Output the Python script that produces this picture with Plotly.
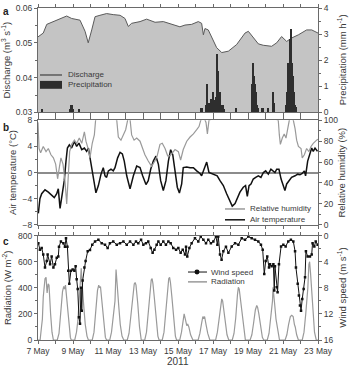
import numpy as np
import pandas as pd
import plotly.graph_objects as go

BASE = pd.Timestamp("2011-05-07")

# ---------------- Panel a: discharge & precipitation ----------------
q_day = [0.0, 0.3, 0.5, 0.88, 1.35, 1.64, 1.92, 2.40, 2.69, 2.87, 3.07, 3.26, 3.54, 3.92,
         4.30, 4.69, 4.97, 5.16, 5.35, 5.83, 6.21, 6.69, 7.16, 7.83, 8.11, 8.40, 8.78,
         9.16, 9.35, 9.45, 9.54, 9.73, 10.02, 10.21, 10.50, 10.88, 11.35, 11.83, 12.02,
         12.30, 12.59, 12.87, 13.35, 13.64, 13.92, 14.21, 14.50, 14.88, 15.35, 15.64, 16.0]
q_val = [0.0517, 0.0528, 0.0553, 0.0561, 0.0572, 0.0577, 0.0570, 0.0565, 0.0533, 0.0500,
         0.0537, 0.0575, 0.0579, 0.0584, 0.0581, 0.0579, 0.0570, 0.0547, 0.0556, 0.0561,
         0.0568, 0.0559, 0.0561, 0.0551, 0.0546, 0.0551, 0.0553, 0.0561, 0.0556, 0.0523,
         0.0541, 0.0537, 0.0504, 0.0486, 0.0472, 0.0476, 0.0495, 0.0528, 0.0533, 0.0514,
         0.0497, 0.0493, 0.0490, 0.0500, 0.0518, 0.0504, 0.0514, 0.0523, 0.0537, 0.0537,
         0.0528]

p_day = [0.25, 1.82, 1.88, 1.95, 2.02, 2.34,
         9.30, 9.36, 9.62, 9.68, 9.74, 9.80, 9.86, 9.92, 9.98, 10.04, 10.10, 10.16, 10.22,
         10.28, 10.34, 10.40, 10.46, 10.52, 10.58, 10.64, 11.33,
         12.22, 12.28, 12.34, 12.40, 12.46, 12.52, 12.58, 12.80, 12.86, 13.16, 13.46, 13.52,
         14.20, 14.26, 14.32, 14.38, 14.44, 14.50, 14.56, 14.62, 14.68, 14.74]
p_val = [0.13, 0.15, 0.28, 0.30, 0.15, 0.13,
         0.16, 0.16, 0.30, 1.10, 0.35, 0.30, 0.35, 0.50, 0.80, 0.47, 0.30, 0.60, 2.25,
         1.60, 0.80, 0.80, 0.30, 0.30, 0.30, 0.15, 0.16,
         1.10, 1.90, 1.40, 1.10, 0.80, 0.30, 0.16, 0.16, 0.16, 0.16, 0.80, 0.35,
         0.30, 0.80, 1.90, 2.80, 3.20, 1.90, 1.40, 0.80, 0.30, 0.20]

# ---------------- Panel b: air temperature & relative humidity ----------------
t_day = [0.02, 0.11, 0.21, 0.40, 0.59, 0.78, 0.93, 1.07, 1.16, 1.26, 1.35, 1.50, 1.60, 1.68,
         1.79, 1.92, 2.08, 2.21, 2.34, 2.50, 2.65, 2.78, 2.88, 2.97, 3.10, 3.22, 3.31, 3.45,
         3.60, 3.73, 3.83, 3.92, 4.02, 4.17, 4.30, 4.40, 4.55, 4.69, 4.82, 4.93, 5.07, 5.26,
         5.45, 5.64, 5.83, 5.98, 6.17, 6.30, 6.44, 6.59, 6.74, 6.88, 7.01, 7.16, 7.31, 7.45,
         7.58, 7.70, 7.83, 7.96, 8.08, 8.21, 8.30, 8.50, 8.69, 8.88, 9.07, 9.26, 9.35, 9.49,
         9.64, 9.77, 9.92, 10.11, 10.24, 10.40, 10.59, 10.78, 10.97, 11.10, 11.26, 11.41,
         11.54, 11.73, 11.86, 11.96, 12.06, 12.17, 12.30, 12.44, 12.59, 12.74, 12.88, 13.01,
         13.16, 13.31, 13.45, 13.54, 13.64, 13.77, 13.89, 14.02, 14.11, 14.21, 14.34, 14.49,
         14.69, 14.84, 14.97, 15.10, 15.22, 15.29, 15.41, 15.54, 15.64, 15.73, 15.83, 15.97]
t_val = [-6.25, -4.0, -3.25, -2.65, -3.0, -3.5, -3.85, -3.25, -2.5, -5.5, -3.75, -1.25, 1.75,
         3.75, 4.25, 3.75, 4.75, 4.0, 4.5, 3.5, 3.75, 3.25, 3.75, 2.25, -0.25, -2.0, -3.1,
         -2.0, -0.25, 0.75, -0.5, -0.75, 0.25, 0.5, 0.25, 0.75, 2.25, 3.1, 2.85, 1.75, -0.5,
         -2.5, -0.5, 1.0, 0.75, -0.5, -1.85, -1.25, 0.5, 1.75, 2.5, 1.25, -1.25, -2.75,
         -1.25, 1.75, 3.5, 2.75, 0.0, -2.25, -3.15, -1.75, 0.75, 0.85, 0.75, 0.75, 0.25,
         -0.15, -0.5, 0.5, 1.6, 0.0, -0.15, -0.25, -0.5, -1.25, -2.0, -3.25, -4.5, -5.15,
         -4.75, -3.75, -3.0, -2.25, -2.0, -3.65, -2.0, -1.75, -1.0, -0.75, -0.5, -0.75, 0.0,
         0.25, -0.25, 0.5, 0.25, 0.0, 0.5, 0.5, -1.0, -2.25, -2.75, -1.75, -1.25, -0.75,
         -0.5, -0.25, -0.35, -0.15, 0.25, -0.5, 1.75, 2.75, 3.75, 3.25, 3.75, 3.25]

rh_day = [0.0, 0.06, 0.15, 0.30, 0.46, 0.59, 0.74, 0.88, 1.01, 1.12, 1.22, 1.31, 1.43, 1.54,
          1.64, 1.73, 1.81, 1.92, 2.08, 2.21, 2.36, 2.50, 2.65, 2.74, 2.88, 2.97, 3.10, 3.22,
          3.29, 3.60, 4.00, 4.50, 4.59, 4.74, 4.88, 5.01, 5.12, 5.23, 5.35, 5.49, 5.64, 5.83,
          5.98, 6.11, 6.30, 6.49, 6.68, 6.81, 6.97, 7.10, 7.26, 7.41, 7.54, 7.70, 7.83, 8.02,
          8.15, 8.30, 8.50, 8.69, 8.88, 9.07, 9.20, 9.30, 9.45, 9.60, 9.68, 9.77, 11.0, 12.5,
          13.73, 13.79, 13.85, 13.96, 14.07, 14.17, 14.27, 14.36, 14.48, 14.59, 14.69, 14.78,
          14.88, 15.03, 15.10, 15.22, 15.35, 15.48, 15.60, 15.73, 15.92, 16.0]
rh_val = [98, 73, 69, 75, 70, 73, 67, 64, 58, 44, 55, 64, 58, 42, 20, 52, 70, 77, 81, 78,
          83, 78, 89, 80, 72, 64, 78, 86, 100, 110, 110, 100, 84, 81, 86, 91, 100, 106, 86,
          81, 83, 80, 73, 67, 61, 56, 61, 66, 77, 78, 73, 66, 66, 70, 72, 70, 62, 72, 80,
          84, 87, 91, 94, 100, 104, 98, 87, 100, 110, 110, 100, 86, 77, 83, 87, 83, 92, 100,
          104, 100, 92, 81, 75, 73, 64, 67, 73, 70, 75, 78, 81, 82]

# ---------------- Panel c: radiation & wind speed ----------------
rad_day = [0.00, 0.12, 0.20, 0.25, 0.30, 0.40, 0.46, 0.52, 0.58, 0.63, 0.72, 0.80, 0.88,
           1.10, 1.20, 1.30, 1.40, 1.47, 1.52, 1.57, 1.65, 1.75, 1.85, 1.90,
           2.10, 2.20, 2.28, 2.35, 2.42, 2.47, 2.52, 2.58, 2.62, 2.70, 2.80, 2.88,
           3.10, 3.20, 3.30, 3.40, 3.47, 3.52, 3.57, 3.65, 3.75, 3.85, 3.92,
           4.10, 4.20, 4.30, 4.37, 4.40, 4.46, 4.52, 4.57, 4.62, 4.70, 4.80, 4.90,
           5.10, 5.20, 5.30, 5.40, 5.50, 5.55, 5.60, 5.70, 5.80, 5.90,
           6.10, 6.20, 6.30, 6.40, 6.47, 6.52, 6.57, 6.65, 6.75, 6.85, 6.92,
           7.10, 7.20, 7.30, 7.40, 7.47, 7.52, 7.57, 7.65, 7.75, 7.85, 7.92,
           8.10, 8.20, 8.28, 8.35, 8.42, 8.50, 8.56, 8.62, 8.72, 8.85,
           9.15, 9.25, 9.35, 9.42, 9.47, 9.52, 9.60, 9.70, 9.82,
           10.15, 10.25, 10.35, 10.45, 10.50, 10.55, 10.62, 10.70, 10.80, 10.90,
           11.10, 11.20, 11.30, 11.40, 11.45, 11.50, 11.55, 11.65, 11.75, 11.85,
           12.12, 12.22, 12.32, 12.42, 12.50, 12.55, 12.62, 12.72, 12.82, 12.90,
           13.10, 13.20, 13.30, 13.36, 13.40, 13.43, 13.47, 13.52, 13.60, 13.70, 13.80,
           14.12, 14.22, 14.32, 14.42, 14.50, 14.58, 14.65, 14.70, 14.78, 14.88,
           15.10, 15.20, 15.30, 15.36, 15.42, 15.48, 15.52, 15.57, 15.62, 15.70, 15.80,
           15.90, 16.00]
rad_val = [0, 0, 100, 160, 330, 470, 480, 360, 430, 420, 200, 60, 0,
           0, 50, 200, 370, 410, 390, 420, 300, 120, 20, 0,
           0, 60, 150, 300, 450, 550, 430, 260, 250, 120, 30, 0,
           0, 60, 220, 380, 420, 400, 410, 300, 130, 20, 0,
           0, 60, 200, 280, 300, 540, 400, 270, 250, 120, 30, 0,
           0, 50, 180, 340, 430, 440, 420, 280, 100, 0,
           0, 60, 200, 380, 460, 470, 430, 320, 150, 30, 0,
           0, 60, 200, 380, 470, 480, 440, 330, 150, 30, 0,
           0, 60, 150, 200, 160, 110, 120, 100, 40, 0,
           0, 50, 130, 180, 170, 180, 120, 50, 0,
           0, 60, 170, 280, 315, 300, 230, 130, 40, 0,
           0, 50, 170, 350, 403, 390, 330, 200, 70, 0,
           0, 40, 130, 230, 264, 250, 200, 100, 20, 0,
           0, 50, 160, 250, 300, 403, 320, 280, 160, 60, 0,
           0, 40, 120, 180, 190, 180, 120, 100, 40, 0,
           0, 60, 200, 277, 400, 580, 600, 520, 400, 200, 60,
           0, 0]

w_day = [0.02, 0.11, 0.21, 0.30, 0.40, 0.50, 0.55, 0.69, 0.78, 0.88, 0.97, 1.07, 1.16, 1.20,
         1.31, 1.45, 1.54, 1.60, 1.68, 1.73, 1.79, 1.88, 1.98, 2.08, 2.15, 2.21, 2.27, 2.34,
         2.40, 2.46, 2.50, 2.55, 2.65, 2.72, 2.84, 2.97, 3.10, 3.26, 3.45, 3.64, 3.83, 3.98,
         4.11, 4.30, 4.50, 4.69, 4.88, 5.07, 5.26, 5.45, 5.60, 5.73, 5.89, 6.02, 6.17, 6.30,
         6.44, 6.55, 6.65, 6.78, 6.88, 7.01, 7.16, 7.31, 7.45, 7.58, 7.73, 7.89, 8.02, 8.15,
         8.27, 8.40, 8.46, 8.53, 8.65, 8.78, 8.97, 9.16, 9.30, 9.45, 9.60, 9.73, 9.88, 10.02,
         10.17, 10.25, 10.30, 10.40, 10.49, 10.59, 10.74, 10.88, 11.07, 11.26, 11.45, 11.64,
         11.83, 12.02, 12.21, 12.40, 12.59, 12.74, 12.84, 12.93, 13.01, 13.10, 13.20, 13.26,
         13.35, 13.45, 13.50, 13.54, 13.64, 13.69, 13.77, 13.89, 14.02, 14.15, 14.30, 14.45,
         14.59, 14.69, 14.74, 14.84, 14.91, 14.97, 15.03, 15.10, 15.18, 15.26, 15.31, 15.41,
         15.54, 15.64, 15.69, 15.79, 15.87, 15.98]
w_val = [1.16, 2.16, 1.9, 2.9, 4.9, 3.9, 2.9, 4.4, 3.2, 4.9, 4.4, 3.4, 3.2, 1.7,
         0.9, 1.16, 1.7, 0.4, 1.7, 5.4, 7.4, 5.4, 5.2, 5.4, 4.7, 6.7, 8.2, 12.5,
         13.5, 8.0, 11.5, 6.9, 4.9, 3.9, 2.4, 2.2, 1.4, 0.9, 0.65, 1.16, 1.4, 1.9,
         1.16, 0.9, 1.4, 1.16, 0.9, 1.4, 0.9, 1.4, 0.9, 1.16, 0.65, 1.4, 1.16, 0.9,
         1.9, 2.65, 2.16, 1.4, 0.9, 1.4, 0.9, 1.4, 0.9, 1.16, 1.9, 2.16, 1.9, 2.65,
         2.16, 2.9, 1.7, 3.2, 1.9, 1.16, 0.4, 0.9, 0.15, 0.65, 1.16, 0.65, 1.16, 0.9,
         0.15, 1.4, 0.15, 2.9, 3.7, 2.4, 1.7, 2.65, 1.66, 1.16, 1.4, 0.4,
         0.65, 0.15, 0.4, 0.65, 0.9, 1.4, 2.16, 5.9, 3.9, 3.2, 4.9, 4.4,
         4.7, 4.4, 8.4, 4.7, 7.9, 8.7, 4.4, 1.66, 1.4, 1.66, 0.9, 0.65,
         0.9, 2.4, 4.9, 7.4, 9.2, 10.7, 11.5, 9.7, 8.2, 6.4, 2.4, 3.2,
         3.2, 2.9, 1.16, 1.66, 0.9, 1.4]

label_days = [0, 2, 4, 6, 8, 10, 12, 14, 16]


def to_dt(days):
    return BASE + pd.to_timedelta(np.array(days, dtype=float), unit="D")


label_dates = to_dt(label_days)
label_text = [f"{d.day} May" for d in label_dates]

FONT = "Arial, Liberation Sans, sans-serif"
TXT = "#3a3a3a"
AX = "#6a6a6a"

# plot area in pixels (for paper-coordinate helpers)
L, R, T, B = 38, 318, 3, 340


def px(X):
    return (X - L) / (R - L)


def py(Y):
    return (B - Y) / (B - T)


fig = go.Figure()

# Panel a
fig.add_trace(go.Scatter(x=to_dt(q_day), y=q_val, mode="lines", fill="tozeroy",
                         fillcolor="#c4c4c4", line=dict(color="#5a5a5a", width=1),
                         showlegend=False, xaxis="x", yaxis="y", hoverinfo="skip"))
fig.add_trace(go.Bar(x=to_dt(p_day), y=p_val, width=0.07 * 86400000,
                     marker=dict(color="#2e2e2e", line=dict(width=0)),
                     name="Precipitation", xaxis="x", yaxis="y2", showlegend=False))

# Panel b
fig.add_trace(go.Scatter(x=to_dt(rh_day), y=rh_val, mode="lines",
                         line=dict(color="#9a9a9a", width=1.2), name="Relative humidity",
                         xaxis="x2", yaxis="y4", showlegend=False))
fig.add_trace(go.Scatter(x=to_dt(t_day), y=t_val, mode="lines",
                         line=dict(color="#111111", width=1.5), name="Air temperature",
                         xaxis="x2", yaxis="y3", showlegend=False))

# Panel c
fig.add_trace(go.Scatter(x=to_dt(rad_day), y=rad_val, mode="lines",
                         line=dict(color="#9a9a9a", width=1.2), name="Radiation",
                         xaxis="x3", yaxis="y5", showlegend=False))
fig.add_trace(go.Scatter(x=to_dt(w_day), y=w_val, mode="lines+markers",
                         line=dict(color="#111111", width=1),
                         marker=dict(symbol="square", size=2.5, color="#111111"),
                         name="Wind speed", xaxis="x3", yaxis="y6", showlegend=False))

xr = [to_dt([0])[0], to_dt([16])[0]]
xcommon = dict(range=xr, tickvals=label_dates, ticks="outside", ticklen=3, tickcolor=AX,
               showline=True, linecolor=AX, linewidth=1, mirror="ticks", showgrid=False,
               zeroline=False, tickfont=dict(size=8.5, color=TXT, family=FONT),
               minor=dict(ticks="outside", ticklen=3, dtick=86400000, tickcolor=AX,
                          showgrid=False))
ycommon = dict(ticks="outside", ticklen=3, tickcolor=AX, showline=True, linecolor=AX,
               linewidth=1, showgrid=False, zeroline=False,
               tickfont=dict(size=8.5, color=TXT, family=FONT),
               title_font=dict(size=9.5, color=TXT, family=FONT))

da = [py(109), py(3)]
db = [py(223), py(117)]
dc = [py(340), py(234)]

fig.update_layout(
    width=350, height=369,
    margin=dict(l=L, r=350 - R, t=T, b=369 - B),
    paper_bgcolor="white", plot_bgcolor="white",
    font=dict(family=FONT, color=TXT),
    bargap=0, showlegend=False,
    xaxis=dict(**xcommon, anchor="y", showticklabels=False, domain=[0, 1]),
    xaxis2=dict(**xcommon, anchor="y3", showticklabels=False, domain=[0, 1]),
    xaxis3=dict(**xcommon, anchor="y5", ticktext=label_text, domain=[0, 1]),
    yaxis=dict(**ycommon, domain=da, range=[0.03, 0.06], dtick=0.01, tickformat=".2f",
               anchor="x", title=dict(text="Discharge (m<sup>3</sup> s<sup>-1</sup>)", standoff=4),
               minor=dict(ticks="outside", ticklen=2, dtick=0.005, tickcolor=AX)),
    yaxis2=dict(**ycommon, overlaying="y", side="right", range=[0, 4], dtick=1,
                anchor="x", minor=dict(ticks="outside", ticklen=2, dtick=0.5, tickcolor=AX)),
    yaxis3=dict(**{**ycommon, "zeroline": True}, domain=db, range=[-8, 8], dtick=4,
                zerolinecolor="#8c8c8c", zerolinewidth=1.5, anchor="x2",
                title=dict(text="Air temperature (°C)", standoff=4),
                minor=dict(ticks="outside", ticklen=2, dtick=2, tickcolor=AX)),
    yaxis4=dict(**ycommon, overlaying="y3", side="right", range=[0, 100], dtick=20,
                anchor="x2", minor=dict(ticks="outside", ticklen=2, dtick=10, tickcolor=AX)),
    yaxis5=dict(**ycommon, domain=dc, range=[0, 800], dtick=200, anchor="x3",
                title=dict(text="Radiation (W m<sup>-2</sup>)", standoff=4),
                minor=dict(ticks="outside", ticklen=2, dtick=100, tickcolor=AX)),
    yaxis6=dict(**ycommon, overlaying="y5", side="right", range=[16, 0], dtick=4,
                anchor="x3", minor=dict(ticks="outside", ticklen=2, dtick=2, tickcolor=AX)),
)

# right-hand axis titles
for txt, ycen in (("Precipitation (mm h<sup>-1</sup>)", 56),
                  ("Relative humidity (%)", 170),
                  ("Wind speed (m s<sup>-1</sup>)", 287)):
    fig.add_annotation(text=txt, xref="paper", yref="paper", x=px(342), y=py(ycen),
                       xanchor="center", yanchor="middle", textangle=-90, showarrow=False,
                       font=dict(size=9.5, color=TXT, family=FONT))

# year label
fig.add_annotation(text="2011", xref="paper", yref="paper", x=px(178), y=py(362),
                   xanchor="center", yanchor="middle", showarrow=False,
                   font=dict(size=10, color=TXT, family=FONT))

# panel letters
for lab, Y in (("a", 7), ("b", 124), ("c", 240)):
    fig.add_annotation(text=f"<b>{lab}</b>", xref="paper", yref="paper",
                       x=px(1), y=py(Y), xanchor="left", yanchor="middle", showarrow=False,
                       font=dict(size=10, color="#222222", family=FONT))

# ---- legends (drawn as keys + real text) ----
LEG = dict(size=8, color=TXT, family=FONT)


def leg_line(x0, x1, Y, color, width):
    fig.add_shape(type="line", xref="paper", yref="paper", x0=px(x0), x1=px(x1),
                  y0=py(Y), y1=py(Y), line=dict(color=color, width=width))


def leg_text(X, Y, text):
    fig.add_annotation(text=text, xref="paper", yref="paper", x=px(X), y=py(Y),
                       xanchor="left", yanchor="middle", showarrow=False, font=LEG)


# panel a
leg_line(40, 62, 71, "#5a5a5a", 1.5)
leg_text(66, 71, "Discharge")
fig.add_shape(type="rect", xref="paper", yref="paper", x0=px(40), x1=px(62),
              y0=py(85), y1=py(77), fillcolor="#2e2e2e", line=dict(width=0))
leg_text(66, 81, "Precipitation")

# panel b
leg_line(225, 245, 207, "#9a9a9a", 1.5)
leg_text(248, 207, "Relative humidity")
leg_line(225, 245, 218, "#111111", 1.5)
leg_text(248, 218, "Air temperature")

# panel c
leg_line(188, 207, 271, "#111111", 1)
fig.add_shape(type="circle", xref="paper", yref="paper", x0=px(194.5), x1=px(199.5),
              y0=py(273.5), y1=py(268.5), fillcolor="#111111", line=dict(width=0))
leg_text(209, 271, "Wind speed")
leg_line(188, 207, 281, "#9a9a9a", 1.5)
leg_text(209, 281, "Radiation")

# the page's default body margin would shift the 350x369 figure; remove it
fig.write_html("out.html",
               config={"displayModeBar": False},
               post_script="document.body.style.margin='0';"
                           "document.body.style.overflow='hidden';")
